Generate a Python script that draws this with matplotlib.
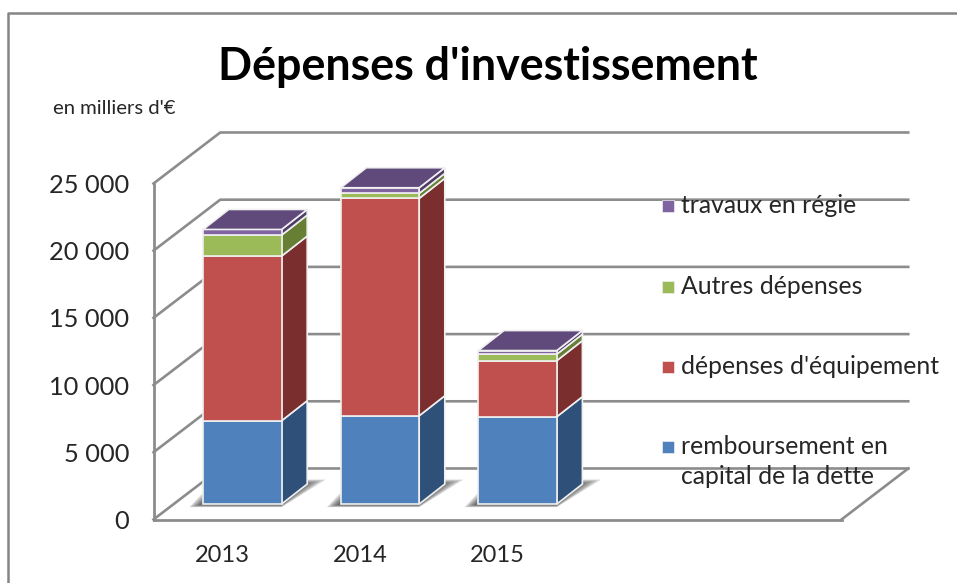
import matplotlib
matplotlib.use("Agg")
import matplotlib.pyplot as plt
from matplotlib.lines import Line2D
from matplotlib.patches import Rectangle

plt.rcParams['font.family'] = ['Lato', 'DejaVu Sans']

years = ["2013", "2014", "2015"]
remboursement = [6200, 6570, 6500]
equipement = [12250, 16175, 4170]
autres = [1560, 370, 480]
travaux = [420, 420, 270]
series = [remboursement, equipement, autres, travaux]

y_ticks = [0, 5000, 10000, 15000, 20000, 25000]
legend_names = ["travaux en régie", "Autres dépenses", "dépenses d'équipement",
                "remboursement en\ncapital de la dette"]

front_cols = ["#4F81BD", "#C0504D", "#9BBB59", "#8064A2"]
side_cols = ["#2F5079", "#7A2F2E", "#677E35", "#4F3D69"]
top_col = "#604A7B"
legend_cols = ["#8064A2", "#9BBB59", "#C0504D", "#4F81BD"]
line_col = "#8C8C8C"
text_col = "#262626"

W, H = 957, 583

# wall depth and bar placement, in data units
wall_dx, wall_dy = 0.485, 3795
shift_dx, shift_dy = 0.146, 1150
bar_dx, bar_dy = 0.186, 1488
bar_w = 0.57

fig = plt.figure(figsize=(W / 100, H / 100), dpi=100)
ax = fig.add_axes([153.5 / W, 1 - 519.5 / H, 688 / W, 336 / H])
ax.set_xlim(-0.5, 4.5)
ax.set_ylim(0, 25000)
ax.patch.set_visible(False)

for s in ["top", "right"]:
    ax.spines[s].set_visible(False)
for s in ["left", "bottom"]:
    ax.spines[s].set_color(line_col)
    ax.spines[s].set_linewidth(2)

ax.set_xticks(range(len(years)))
ax.set_xticklabels(years, fontsize=17, color=text_col)
ax.set_yticks(y_ticks)
ax.set_yticklabels([f"{v:,}".replace(",", " ") for v in y_ticks], fontsize=18.3, color=text_col)
ax.tick_params(length=0)
ax.tick_params(axis="x", pad=18)
ax.tick_params(axis="y", pad=17.5)

# walls
for v in y_ticks:
    ax.plot([-0.5, -0.5 + wall_dx, 4.5 + wall_dx], [v, v + wall_dy, v + wall_dy],
            color=line_col, lw=1.9, clip_on=False, zorder=1)
ax.plot([4.5, 4.5 + wall_dx], [0, wall_dy], color=line_col, lw=1.9, clip_on=False, zorder=1)

# bars
for i in range(len(years)):
    x0 = i - bar_w / 2 + shift_dx
    x1 = i + bar_w / 2 + shift_dx

    # soft floor shadow, stacked see-through layers
    for k in range(7):
        g = k * 0.016
        h = k * 35
        ax.fill([x0 - 0.10 + g, x1, x1 + 0.32 - g * 2, x0 + 0.09 + g],
                [shift_dy - 230 + h, shift_dy - 230 + h, shift_dy + 1820 - h * 2, shift_dy + 1820 - h * 2],
                color="#303030", alpha=0.2, lw=0, clip_on=False, zorder=2)

    bottom = shift_dy
    for vals, fc, sc in zip(series, front_cols, side_cols):
        top = bottom + vals[i]
        ax.fill([x1, x1 + bar_dx, x1 + bar_dx, x1],
                [bottom, bottom + bar_dy, top + bar_dy, top],
                facecolor=sc, edgecolor="#F0F0F0", lw=1.2, clip_on=False, zorder=3)
        ax.fill([x0, x1, x1, x0], [bottom, bottom, top, top],
                facecolor=fc, edgecolor="#F0F0F0", lw=1.2, clip_on=False, zorder=3)
        bottom = top
    ax.fill([x0, x1, x1 + bar_dx, x0 + bar_dx],
            [bottom, bottom, bottom + bar_dy, bottom + bar_dy],
            facecolor=top_col, edgecolor="#F0F0F0", lw=1.2, clip_on=False, zorder=3)

# titles
fig.text(487.5 / W, 1 - 80 / H, "Dépenses d'investissement", fontsize=32.2, fontweight="bold",
         color="black", ha="center", va="baseline")
fig.text(53 / W, 1 - 114 / H, "en milliers d'€", fontsize=14.6, color=text_col,
         ha="left", va="baseline")

# legend
legend_y = [206, 287, 367, 447]
for name, col, y in zip(legend_names, legend_cols, legend_y):
    fig.add_artist(Rectangle((662 / W, 1 - (y + 6) / H), 12 / W, 12 / H, facecolor=col,
                             edgecolor="#EEEEEE", lw=0.5, transform=fig.transFigure, zorder=5))
    fig.text(681 / W, 1 - (y - 12) / H, name, fontsize=17.8, color=text_col, ha="left", va="top",
             linespacing=1.38, zorder=6)

# chart frame
fig.add_artist(Line2D([8 / W, 8 / W, 1], [0, 1 - 13 / H, 1 - 13 / H], color="#858585", lw=1.8,
                      transform=fig.transFigure))

fig.savefig("out.png", dpi=100)
